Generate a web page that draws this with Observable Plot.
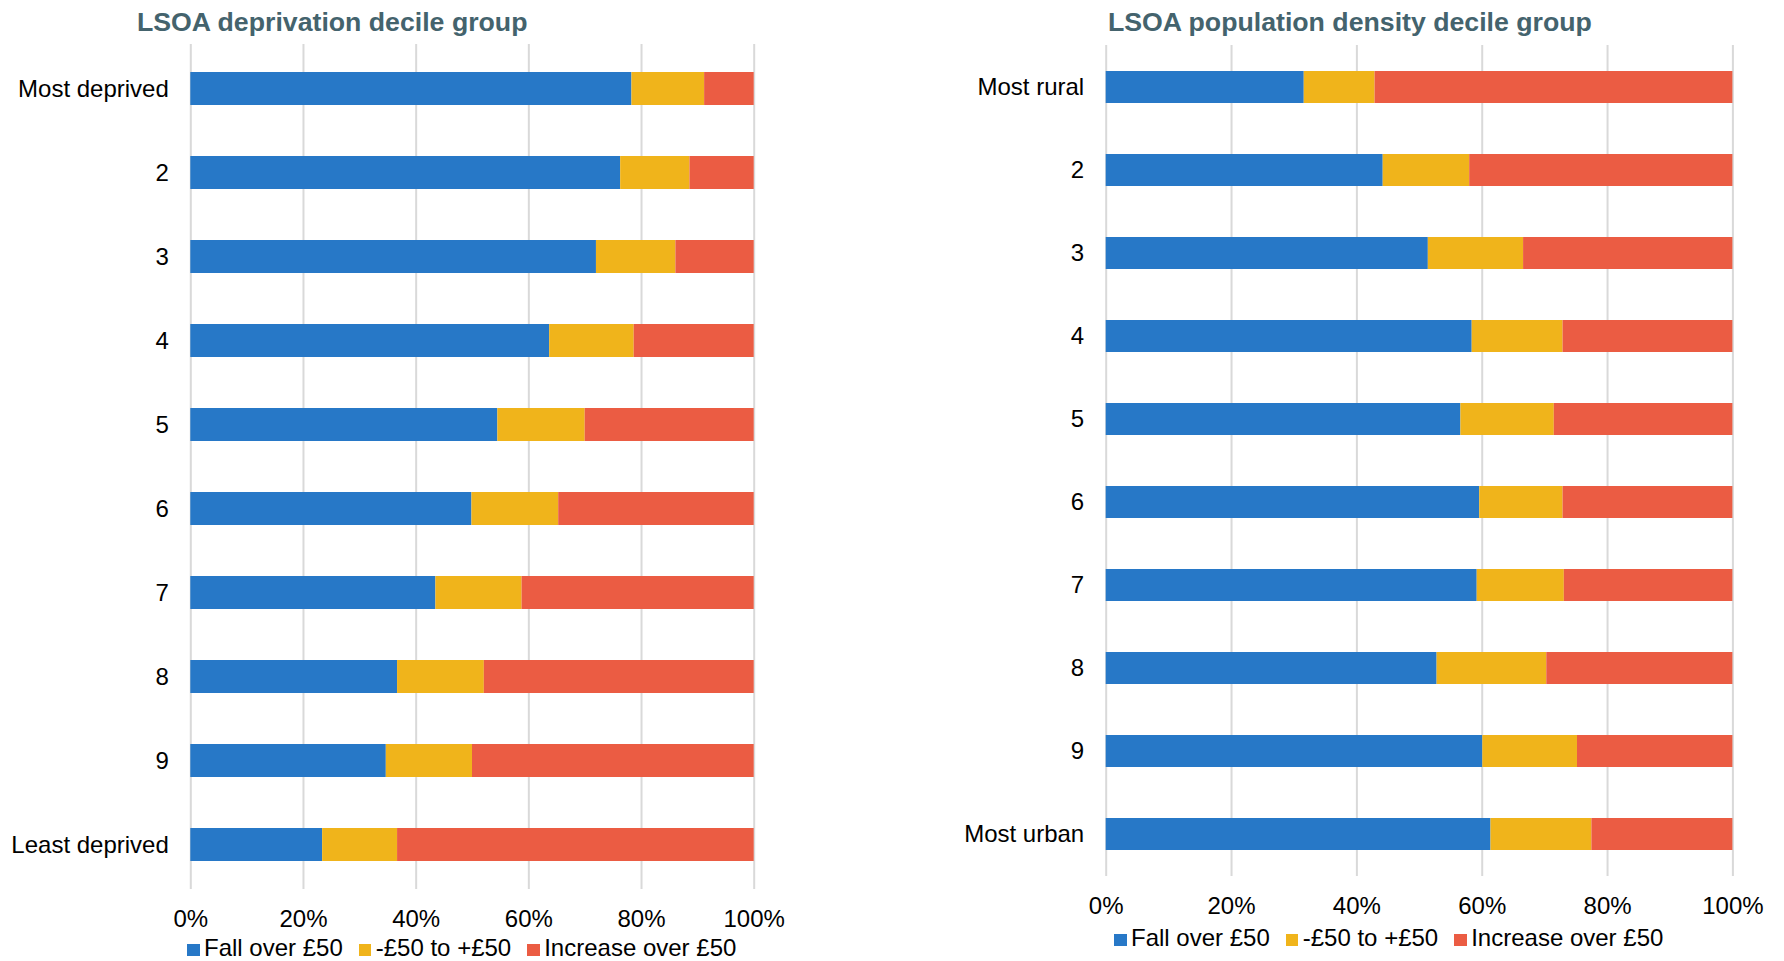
<!DOCTYPE html>
<html>
<head>
<meta charset="utf-8">
<script src="https://cdn.jsdelivr.net/npm/d3@7"></script>
<script src="https://cdn.jsdelivr.net/npm/@observablehq/plot@0.6"></script>
<style>
  html, body { margin: 0; padding: 0; background: #fff; }
  body { width: 1784px; height: 961px; position: relative; overflow: hidden;
         font-family: "Liberation Sans", Arial, sans-serif; }
  .title { position: absolute; font-weight: bold; font-size: 26.7px; line-height: 27px;
           color: #44636d; white-space: nowrap; }
  .chart { position: absolute; top: 0; }
  .legend { position: absolute; display: flex; align-items: baseline; font-size: 24px;
            line-height: 24px; color: #000; white-space: nowrap; }
  .legend .sw { display: inline-block; width: 12.5px; height: 12.5px; margin-right: 4.5px; }
  .legend .item { margin-right: 16px; display: inline-flex; align-items: baseline; }
</style>
</head>
<body>
<div class="title" style="left:137px; top:9px;">LSOA deprivation decile group</div>
<div class="title" style="left:1108px; top:9px;">LSOA population density decile group</div>
<div id="left" class="chart" style="left:0px;"></div>
<div id="right" class="chart" style="left:900px;"></div>
<div id="legL" class="legend" style="left:187px; top:936px;"></div>
<div id="legR" class="legend" style="left:1114px; top:926px;"></div>
<script>
// ---- data ----
const seriesNames = ["Fall over £50", "-£50 to +£50", "Increase over £50"];
const seriesColors = ["#2778c7", "#f0b41b", "#eb5c43"];
const xTicks = [0, 20, 40, 60, 80, 100];

const depLabels = ["Most deprived", "2", "3", "4", "5", "6", "7", "8", "9", "Least deprived"];
const depFall = [78.3, 76.3, 72.0, 63.7, 54.5, 49.9, 43.5, 36.7, 34.7, 23.4];
const depMid  = [12.9, 12.3, 14.1, 15.0, 15.5, 15.4, 15.3, 15.4, 15.3, 13.3];
const depInc  = [8.8, 11.4, 13.9, 21.3, 30.0, 34.7, 41.2, 47.9, 50.0, 63.3];

const denLabels = ["Most rural", "2", "3", "4", "5", "6", "7", "8", "9", "Most urban"];
const denFall = [31.6, 44.2, 51.4, 58.4, 56.6, 59.6, 59.2, 52.8, 60.1, 61.4];
const denMid  = [11.3, 13.8, 15.2, 14.5, 14.9, 13.3, 13.9, 17.5, 15.1, 16.1];
const denInc  = [57.1, 42.0, 33.4, 27.1, 28.5, 27.1, 26.9, 29.7, 24.8, 22.5];

function makeChart(labels, fall, mid, inc, dims) {
  const rows = [];
  [fall, mid, inc].forEach((arr, s) => {
    labels.forEach((c, i) => rows.push({cat: c, series: seriesNames[s], value: arr[i]}));
  });
  return Plot.plot({
    width: dims.width, height: dims.height,
    marginLeft: dims.marginLeft, marginRight: dims.marginRight,
    marginTop: dims.marginTop, marginBottom: dims.marginBottom,
    style: {fontFamily: "'Liberation Sans', Arial, sans-serif", fontSize: "24px", color: "#000", background: "transparent", overflow: "visible"},
    x: {domain: [0, 100]},
    y: {domain: labels, paddingInner: 0.61, paddingOuter: 0.305},
    color: {domain: seriesNames, range: seriesColors},
    marks: [
      Plot.gridX(xTicks, {stroke: "#d9d9d9", strokeOpacity: 1, strokeWidth: 2}),
      Plot.barX(rows, Plot.stackX({x: "value", y: "cat", fill: "series", order: null})),
      Plot.axisX(xTicks, {tickSize: 0, tickPadding: 20, tickFormat: d => d + "%", label: null, fontVariant: "normal"}),
      Plot.axisY({tickSize: 0, tickPadding: 22, label: null})
    ]
  });
}

document.getElementById("left").append(makeChart(depLabels, depFall, depMid, depInc,
  {width: 820, height: 932, marginLeft: 190.3, marginRight: 66.3, marginTop: 44, marginBottom: 43}));
document.getElementById("right").append(makeChart(denLabels, denFall, denMid, denInc,
  {width: 884, height: 920, marginLeft: 205.7, marginRight: 51.6, marginTop: 45, marginBottom: 44}));

function makeLegend(el) {
  seriesNames.forEach((name, i) => {
    const item = document.createElement("span");
    item.className = "item";
    const sw = document.createElement("span");
    sw.className = "sw";
    sw.style.background = seriesColors[i];
    item.append(sw, document.createTextNode(name));
    el.append(item);
  });
}
makeLegend(document.getElementById("legL"));
makeLegend(document.getElementById("legR"));
</script>
</body>
</html>
